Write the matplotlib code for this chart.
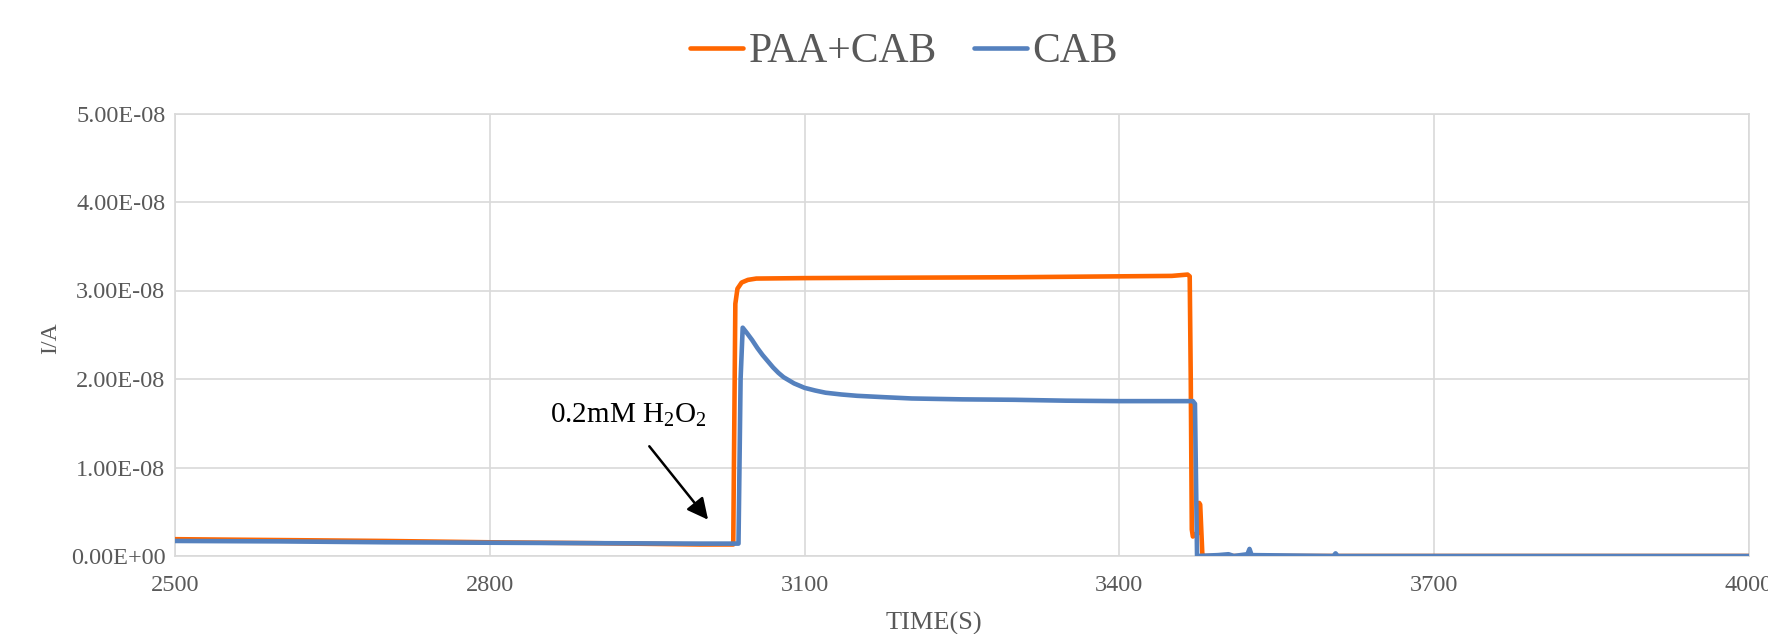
import matplotlib
matplotlib.use("Agg")
import matplotlib.pyplot as plt
from matplotlib.lines import Line2D

plt.rcParams['font.family'] = ['Liberation Serif', 'DejaVu Serif']
plt.rcParams['mathtext.fontset'] = 'custom'
plt.rcParams['mathtext.rm'] = 'Liberation Serif'
plt.rcParams['mathtext.it'] = 'Liberation Serif:italic'
plt.rcParams['mathtext.default'] = 'regular'

# ---- data (time in s, current in A) ----
paa_cab_t = [2500, 2600, 2700, 2800, 2900, 3000, 3032, 3033, 3034, 3036, 3040, 3046,
             3054, 3100, 3200, 3300, 3400, 3450, 3465, 3467, 3468, 3469, 3470, 3472,
             3475, 3476, 3477, 3479, 3480, 3484, 3600, 4000]
paa_cab_i = [1.9e-9, 1.8e-9, 1.7e-9, 1.55e-9, 1.45e-9, 1.3e-9, 1.3e-9, 1.5e-8, 2.85e-8,
             3.02e-8, 3.09e-8, 3.12e-8, 3.135e-8, 3.14e-8, 3.145e-8, 3.15e-8, 3.16e-8,
             3.165e-8, 3.18e-8, 3.16e-8, 2.0e-8, 3.0e-9, 2.2e-9, 2.4e-9, 2.6e-9,
             6.0e-9, 5.8e-9, 3.0e-10, 0.0, 0.0, 0.0, 0.0]

cab_t = [2500, 2600, 2700, 2800, 2900, 3000, 3037, 3039, 3041, 3045, 3050, 3055, 3060,
         3065, 3070, 3075, 3080, 3090, 3100, 3110, 3120, 3135, 3150, 3175, 3202, 3250,
         3300, 3349, 3400, 3440, 3470, 3472, 3474, 3494, 3504, 3509, 3522, 3524, 3526,
         3604, 3606, 3608, 4000]
cab_i = [1.7e-9, 1.65e-9, 1.55e-9, 1.5e-9, 1.45e-9, 1.4e-9, 1.4e-9, 2.0e-8, 2.58e-8,
         2.52e-8, 2.44e-8, 2.35e-8, 2.27e-8, 2.20e-8, 2.13e-8, 2.07e-8, 2.02e-8, 1.95e-8,
         1.90e-8, 1.87e-8, 1.845e-8, 1.825e-8, 1.81e-8, 1.795e-8, 1.78e-8, 1.77e-8,
         1.765e-8, 1.755e-8, 1.75e-8, 1.75e-8, 1.75e-8, 1.72e-8, 0.0, 1.0e-10, 2.0e-10,
         0.0, 2.0e-10, 8.0e-10, 1.0e-10, 0.0, 3.0e-10, 0.0, 0.0]

x_ticks = [2500, 2800, 3100, 3400, 3700, 4000]
y_ticks = [0, 1e-8, 2e-8, 3e-8, 4e-8, 5e-8]
y_tick_labels = ["0.00E+00", "1.00E-08", "2.00E-08", "3.00E-08", "4.00E-08", "5.00E-08"]
series_names = ["PAA+CAB", "CAB"]

ORANGE = "#FF6600"
BLUE = "#5581BE"
GRAY_TXT = "#595959"
GRID = "#D9D9D9"

fig = plt.figure(figsize=(17.68, 6.34), dpi=100)
ax = fig.add_axes([175/1768, 1-556/634, (1749-175)/1768, (556-113.5)/634])

ax.plot(paa_cab_t, paa_cab_i, color=ORANGE, lw=3.3, solid_joinstyle='round', zorder=3)
ax.plot(cab_t, cab_i, color=BLUE, lw=3.3, solid_joinstyle='round', zorder=4)

ax.set_xlim(2500, 4000)
ax.set_ylim(0, 5e-8)
ax.set_xticks(x_ticks)
ax.set_xticklabels([str(v) for v in x_ticks])
ax.set_yticks(y_ticks)
ax.set_yticklabels(y_tick_labels)
ax.grid(True, color=GRID, lw=1.2, zorder=0)
ax.set_axisbelow(True)
for s in ax.spines.values():
    s.set_color(GRID)
    s.set_linewidth(1.2)
ax.tick_params(axis='both', length=0, colors=GRAY_TXT)
ax.tick_params(axis='y', labelsize=17.5, pad=7)
ax.tick_params(axis='x', labelsize=17.5, pad=14)

ax.set_xlabel("TIME(S)", fontsize=19, color=GRAY_TXT)
ax.xaxis.set_label_coords((934-175)/1574, (556-623)/442.5)
ax.xaxis.label.set_va('center')
ax.set_ylabel("I/A", fontsize=17, color=GRAY_TXT)
ax.yaxis.set_label_coords((51-175)/1574, (556-338)/442.5)
ax.yaxis.label.set_va('center')

ax.annotate("", xy=(3008, 0.41e-8), xytext=(2952, 1.24e-8),
            arrowprops=dict(arrowstyle='-|>', color='black', lw=1.8, mutation_scale=32,
                            shrinkA=0, shrinkB=0), zorder=5)
ax.text(2932, 1.59e-8, "0.2mM H$_2$O$_2$", fontsize=21, color='black',
        ha='center', va='center', zorder=5)

handles = [Line2D([], [], color=ORANGE, lw=3.3, solid_capstyle='round'),
           Line2D([], [], color=BLUE, lw=3.3, solid_capstyle='round')]
leg = fig.legend(handles, series_names, loc='center', bbox_to_anchor=(904/1768, 1-52/634),
                 ncol=2, frameon=False, fontsize=30, handlelength=1.27, handletextpad=0.12,
                 columnspacing=0.9, borderpad=0, borderaxespad=0)
for t in leg.get_texts():
    t.set_color(GRAY_TXT)

fig.savefig("out.png", dpi=100)
